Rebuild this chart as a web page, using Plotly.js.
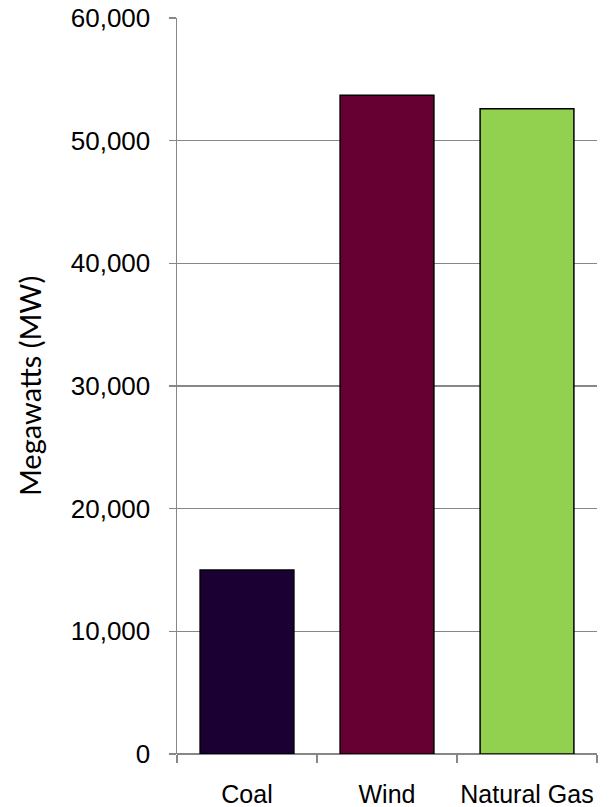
<!DOCTYPE html>
<html>
<head>
<meta charset="utf-8">
<script src="https://cdn.plot.ly/plotly-3.0.1.min.js"></script>
<style>
  html, body { margin: 0; padding: 0; background: #ffffff; }
  #chart { width: 609px; height: 807px; }
</style>
</head>
<body>
<div id="chart"></div>
<script>
// Installed capacity by source, in megawatts
const sources = ["Coal", "Wind", "Natural Gas"];
const capacityMW = [15000, 53700, 52600];
const barColors = ["#1a0033", "#660033", "#92d050"];
const yTickValues = [0, 10000, 20000, 30000, 40000, 50000, 60000];
const yTickLabels = ["0", "10,000", "20,000", "30,000", "40,000", "50,000", "60,000"];

const gridGray = "#878787";
const labelFont = "'Liberation Sans', Arial, sans-serif";

const trace = {
  type: "bar",
  x: sources,
  y: capacityMW,
  marker: {
    color: barColors,
    line: { color: "#000000", width: 1.5 }
  },
  hoverinfo: "x+y"
};

const layout = {
  width: 609,
  height: 807,
  margin: { l: 177, r: 12, t: 18, b: 53, pad: 0 },
  paper_bgcolor: "#ffffff",
  plot_bgcolor: "#ffffff",
  showlegend: false,
  bargap: 0.33,
  font: { family: labelFont, color: "#000000", size: 26 },
  xaxis: {
    type: "category",
    showgrid: false,
    showline: false,
    zeroline: false,
    automargin: false,
    tickangle: 0,
    ticks: "outside",
    tickson: "boundaries",
    ticklen: 8,
    tickwidth: 1.5,
    tickcolor: gridGray,
    tickfont: { family: labelFont, size: 25, color: "#000000" },
    ticklabelstandoff: 23
  },
  yaxis: {
    range: [0, 60000],
    automargin: false,
    tickvals: yTickValues,
    ticktext: yTickLabels,
    showgrid: true,
    gridcolor: gridGray,
    gridwidth: 1.5,
    showline: true,
    linecolor: gridGray,
    linewidth: 1.5,
    zeroline: true,
    zerolinecolor: gridGray,
    zerolinewidth: 1.5,
    ticks: "outside",
    ticklen: 7,
    tickwidth: 1.5,
    tickcolor: gridGray,
    tickfont: { family: labelFont, size: 26, color: "#000000" },
    ticklabelstandoff: 13,
    title: {
      text: "Megawatts (MW)",
      font: { family: "Lato, 'Open Sans', sans-serif", size: 29, color: "#000000" },
      standoff: 20
    }
  }
};

Plotly.newPlot("chart", [trace], layout, { displayModeBar: false, staticPlot: true });
</script>
</body>
</html>
